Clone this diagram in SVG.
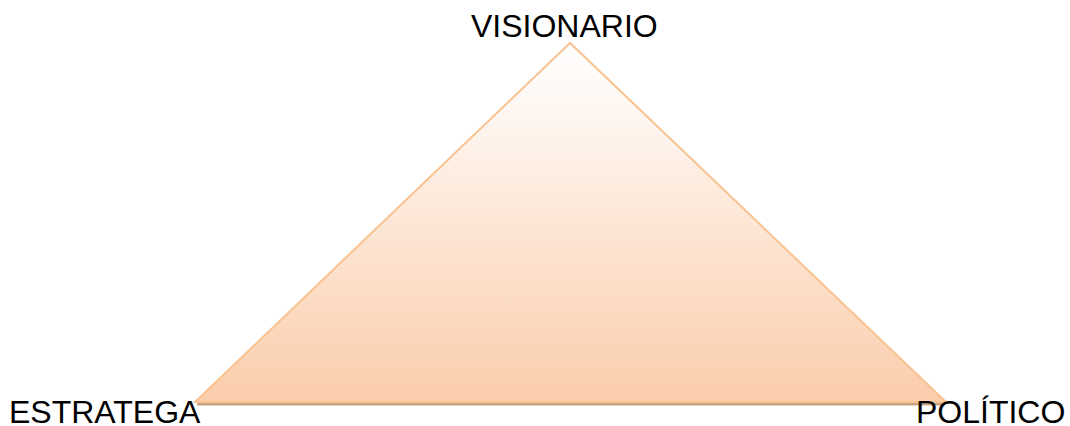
<svg xmlns="http://www.w3.org/2000/svg" width="1070" height="426" viewBox="0 0 1070 426">
<defs>
<linearGradient id="g" x1="0" y1="0" x2="0" y2="1">
<stop offset="0" stop-color="#FFFFFF"/>
<stop offset="0.2" stop-color="#FEF6F0"/>
<stop offset="1" stop-color="#FBCDAB"/>
</linearGradient>
<style>
.lbl{font-family:"Liberation Sans",Arial,sans-serif;font-size:32px;fill:#000}
</style>
</defs>
<g id="triangle">
<line x1="197" y1="404" x2="944" y2="404" stroke="#C8A486" stroke-width="3"/>
<polygon points="570,43 195,402 946,402" fill="url(#g)" stroke="#F9C290" stroke-width="2" stroke-linejoin="miter"/>
</g>
<g id="visionario"><text class="lbl" x="471" y="37">VISIONARIO</text></g>
<g id="estratega"><text class="lbl" x="9" y="423">ESTRATEGA</text></g>
<g id="politico"><text class="lbl" x="916" y="423">POLÍTICO</text></g>
<g id="connectors"></g>
</svg>
